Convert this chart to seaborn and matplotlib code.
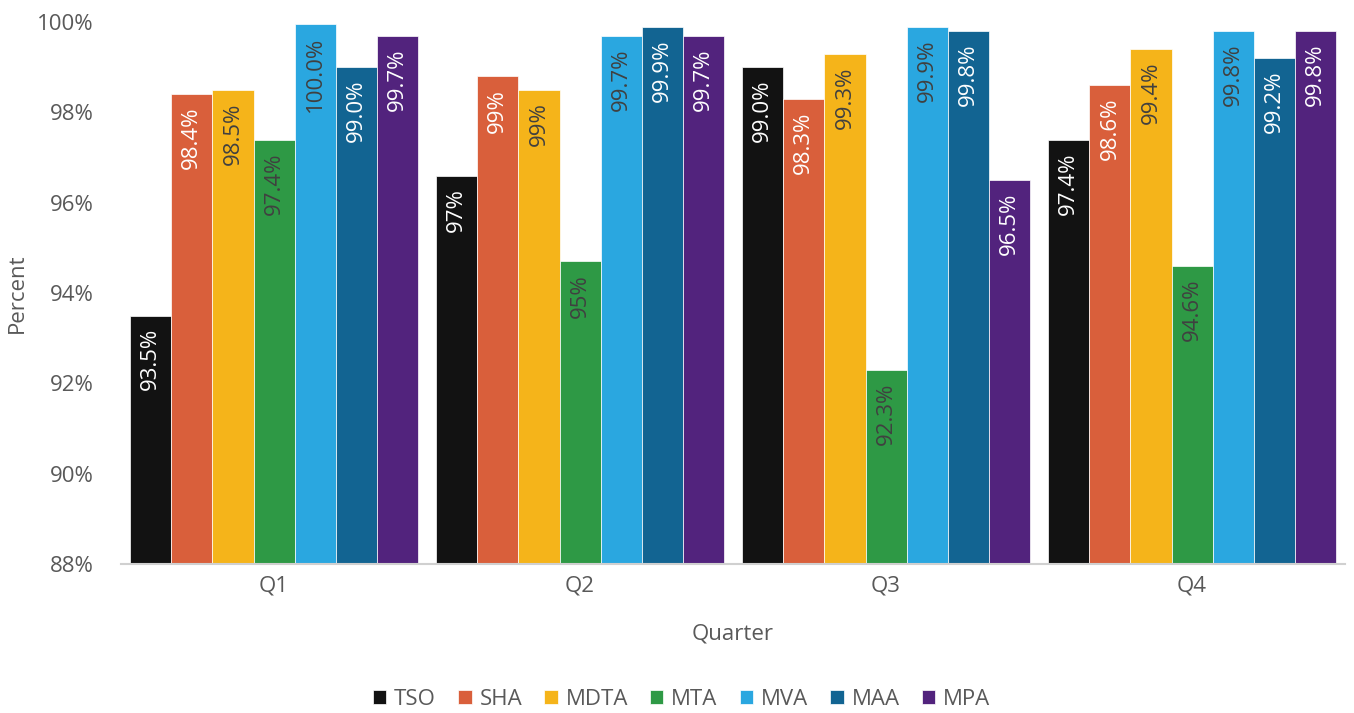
import pandas as pd
import matplotlib
matplotlib.use("Agg")
import matplotlib.pyplot as plt
from matplotlib.ticker import FuncFormatter
import seaborn as sns

## data
quarters = ["Q1", "Q2", "Q3", "Q4"]
series = ["TSO", "SHA", "MDTA", "MTA", "MVA", "MAA", "MPA"]
colors = ["#121212", "#D95F3B", "#F5B41A", "#2E9945", "#2AA7E0", "#126492", "#52237D"]
label_colors = ["white", "white", "#404040", "#404040", "#404040", "white", "white"]

tso = [93.5, 96.6, 99.0, 97.4]
sha = [98.4, 98.8, 98.3, 98.6]
mdta = [98.5, 98.5, 99.3, 99.4]
mta = [97.4, 94.7, 92.3, 94.6]
mva = [99.96, 99.7, 99.9, 99.8]
maa = [99.0, 99.9, 99.8, 99.2]
mpa = [99.7, 99.7, 96.5, 99.8]

tso_lbl = ["93.5%", "97%", "99.0%", "97.4%"]
sha_lbl = ["98.4%", "99%", "98.3%", "98.6%"]
mdta_lbl = ["98.5%", "99%", "99.3%", "99.4%"]
mta_lbl = ["97.4%", "95%", "92.3%", "94.6%"]
mva_lbl = ["100.0%", "99.7%", "99.9%", "99.8%"]
maa_lbl = ["99.0%", "99.9%", "99.8%", "99.2%"]
mpa_lbl = ["99.7%", "99.7%", "96.5%", "99.8%"]

values = [tso, sha, mdta, mta, mva, maa, mpa]
labels = [tso_lbl, sha_lbl, mdta_lbl, mta_lbl, mva_lbl, maa_lbl, mpa_lbl]

rows = []
for s, vals in zip(series, values):
    for q, v in zip(quarters, vals):
        rows.append({"Quarter": q, "Series": s, "Percent": v})
df = pd.DataFrame(rows)

sns.set_style("white")
plt.rcParams["font.family"] = ["Open Sans", "DejaVu Sans"]
text_gray = "#595959"

fig = plt.figure(figsize=(13.54, 7.13), dpi=100)
ax = fig.add_axes([0.0894, 0.209, 0.904, 0.760])

sns.barplot(data=df, x="Quarter", y="Percent", hue="Series", palette=colors,
            saturation=1, width=0.94, edgecolor="white", linewidth=0.5, ax=ax, legend=True)

ax.set_ylim(88, 100)
ax.set_yticks(range(88, 101, 2))
ax.yaxis.set_major_formatter(FuncFormatter(lambda v, p: f"{v:.0f}%"))
ax.tick_params(axis="both", labelsize=16, colors=text_gray, length=0)
ax.tick_params(axis="x", pad=8)
ax.tick_params(axis="y", pad=20)
ax.set_xlabel("Quarter", fontsize=16, color=text_gray, labelpad=20)
ax.set_ylabel("Percent", fontsize=16, color=text_gray)
ax.yaxis.set_label_coords(-0.076, 0.5)

for side in ["left", "right", "top"]:
    ax.spines[side].set_visible(False)
ax.spines["bottom"].set_color("#D0D0D0")
ax.spines["bottom"].set_linewidth(1.5)

## value labels inside bars, rotated
for cont, lbls, col in zip(ax.containers, labels, label_colors):
    for bar, txt in zip(cont, lbls):
        x = bar.get_x() + bar.get_width() / 2
        y = bar.get_y() + bar.get_height()
        ax.annotate(txt, (x, y), xytext=(0, -9), textcoords="offset points",
                    rotation=90, ha="center", va="top", fontsize=16, color=col)

ax.legend(loc="upper center", bbox_to_anchor=(0.458, -0.193), ncol=7, frameon=False,
          fontsize=16, labelcolor=text_gray, handlelength=0.6, handleheight=0.6,
          handletextpad=0.35, columnspacing=1.0)

plt.savefig("out.png", dpi=100)
